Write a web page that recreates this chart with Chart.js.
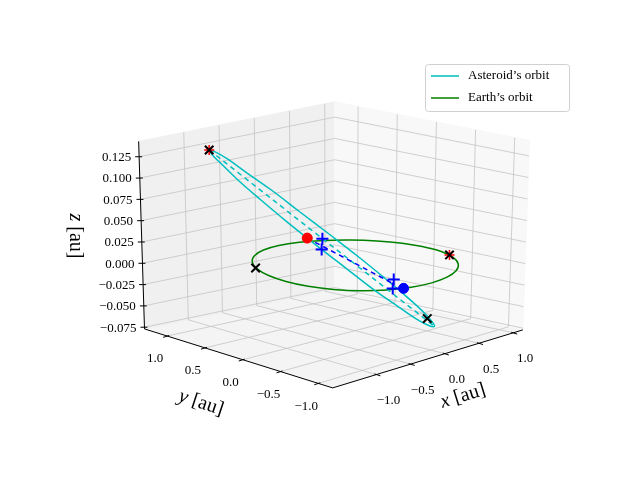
<!DOCTYPE html>
<html>
<head>
<meta charset="utf-8">
<script src="https://cdn.jsdelivr.net/npm/chart.js@4"></script>
<style>
  body { margin: 0; background: #fff; }
</style>
</head>
<body>
<canvas id="orbitChart" width="640" height="480"></canvas>
<script>
// axis limits (au) and ticks
const xLim = [-1.64, 1.14];
const yLim = [-1.19, 1.30];
const zLim = [-0.077, 0.143];
const xTicks = [-1.0, -0.5, 0.0, 0.5, 1.0];
const yTicks = [-1.0, -0.5, 0.0, 0.5, 1.0];
const zTicks = [-0.075, -0.050, -0.025, 0.000, 0.025, 0.050, 0.075, 0.100, 0.125];

// asteroid orbit [x, y, z] au
const asteroidOrbit = [
    [-0.906, 1.063, 0.126], [-0.645, 1.229, 0.116], [-0.354, 1.327, 0.100], [-0.053, 1.349, 0.078],
    [0.239, 1.298, 0.054], [0.500, 1.173, 0.027], [0.714, 0.984, 0.001], [0.866, 0.745, -0.023],
    [0.945, 0.470, -0.044], [0.945, 0.179, -0.060], [0.868, -0.107, -0.070], [0.719, -0.371, -0.074],
    [0.506, -0.593, -0.070], [0.245, -0.759, -0.060], [-0.046, -0.857, -0.044], [-0.347, -0.879, -0.022],
    [-0.639, -0.828, 0.002], [-0.900, -0.703, 0.029], [-1.114, -0.514, 0.055], [-1.266, -0.275, 0.079],
    [-1.345, 0.000, 0.100], [-1.345, 0.291, 0.116], [-1.268, 0.577, 0.127], [-1.119, 0.841, 0.130]
];
// Earth orbit (radius 1 au, ecliptic)
const earthOrbit = [
    [1.000, 0.000], [0.966, 0.259], [0.866, 0.500], [0.707, 0.707], [0.500, 0.866], [0.259, 0.966],
    [0.000, 1.000], [-0.259, 0.966], [-0.500, 0.866], [-0.707, 0.707], [-0.866, 0.500], [-0.966, 0.259],
    [-1.000, 0.000], [-0.966, -0.259], [-0.866, -0.500], [-0.707, -0.707], [-0.500, -0.866], [-0.259, -0.966],
    [0.000, -1.000], [0.259, -0.966], [0.500, -0.866], [0.707, -0.707], [0.866, -0.500], [0.966, -0.259]
];
const apsides = [[-0.906, 1.063, 0.126], [0.506, -0.593, -0.070]];
const nodesLine = [[0.18, 0.79, 0.01], [-0.28, -0.744, 0.0]];
const bluePlus = [[0.41, 0.80, 0.005], [0.20, 0.62, 0.0], [-0.163, -0.651, 0.0], [-0.417, -0.868, 0.0]];
const redDot = [[0.18, 0.79, 0.01]];
const blueDot = [[-0.34, -0.94, 0.0]];
const redStars = [[-0.906, 1.063, 0.126], [0.92, -0.40, 0.0]];
const blackX = [[-0.906, 1.063, 0.126], [-0.854, 0.531, 0.0], [0.555, -0.453, -0.065], [0.92, -0.40, 0.0]];

// screen corners of the 3d box (floor / top): front, right, left, back
const boxFloor = { F: [333, 393], R: [528, 333], L: [140, 332], B: [335, 291] };
const boxTop = { F: [333, 190], R: [535, 137], L: [134, 138], B: [335, 97] };

function bil(c, u, v) {
    const a = (1 - u) * (1 - v), b = u * (1 - v), d = (1 - u) * v, e = u * v;
    return [c.F[0] * a + c.R[0] * b + c.L[0] * d + c.B[0] * e,
            c.F[1] * a + c.R[1] * b + c.L[1] * d + c.B[1] * e];
}
function proj(x, y, z) {
    const u = (x - xLim[0]) / (xLim[1] - xLim[0]);
    const v = (y - yLim[0]) / (yLim[1] - yLim[0]);
    const w = (z - zLim[0]) / (zLim[1] - zLim[0]);
    const p0 = bil(boxFloor, u, v), p1 = bil(boxTop, u, v);
    return { x: p0[0] + (p1[0] - p0[0]) * w, y: p0[1] + (p1[1] - p0[1]) * w };
}
const pts = arr => arr.map(p => proj(p[0], p[1], p[2]));

const datasets = [];
function add(ds) { datasets.push(Object.assign({ showLine: true, pointRadius: 0, borderWidth: 1, tension: 0 }, ds)); }

// panes
add({ data: pts([[xLim[0], yLim[0], zLim[0]], [xLim[1], yLim[0], zLim[0]], [xLim[1], yLim[1], zLim[0]], [xLim[0], yLim[1], zLim[0]], [xLim[0], yLim[0], zLim[0]]]),
      fill: 'shape', backgroundColor: '#f4f4f4', borderColor: '#f4f4f4' });
add({ data: pts([[xLim[0], yLim[1], zLim[0]], [xLim[1], yLim[1], zLim[0]], [xLim[1], yLim[1], zLim[1]], [xLim[0], yLim[1], zLim[1]], [xLim[0], yLim[1], zLim[0]]]),
      fill: 'shape', backgroundColor: '#f0f0f0', borderColor: '#f0f0f0' });
add({ data: pts([[xLim[1], yLim[0], zLim[0]], [xLim[1], yLim[1], zLim[0]], [xLim[1], yLim[1], zLim[1]], [xLim[1], yLim[0], zLim[1]], [xLim[1], yLim[0], zLim[0]]]),
      fill: 'shape', backgroundColor: '#f8f8f8', borderColor: '#f8f8f8' });

// grid lines
const gridColor = '#c4c4c4';
xTicks.forEach(t => {
    add({ data: pts([[t, yLim[0], zLim[0]], [t, yLim[1], zLim[0]], [t, yLim[1], zLim[1]]]), borderColor: gridColor, borderWidth: 0.8 });
});
yTicks.forEach(t => {
    add({ data: pts([[xLim[0], t, zLim[0]], [xLim[1], t, zLim[0]], [xLim[1], t, zLim[1]]]), borderColor: gridColor, borderWidth: 0.8 });
});
zTicks.forEach(t => {
    add({ data: pts([[xLim[0], yLim[1], t], [xLim[1], yLim[1], t], [xLim[1], yLim[0], t]]), borderColor: gridColor, borderWidth: 0.8 });
});

// axis lines
add({ data: pts([[xLim[0], yLim[1], zLim[1]], [xLim[0], yLim[1], zLim[0]], [xLim[0], yLim[0], zLim[0]], [xLim[1], yLim[0], zLim[0]]]), borderColor: '#000', borderWidth: 1 });

// orbits
add({ data: pts(earthOrbit.map(p => [p[0], p[1], 0]).concat([[earthOrbit[0][0], earthOrbit[0][1], 0]])), borderColor: '#008000', borderWidth: 1.5, tension: 0.4 });
add({ data: pts(asteroidOrbit.concat([asteroidOrbit[0]])), borderColor: '#00bfbf', borderWidth: 1.5, tension: 0.4 });
add({ data: pts(apsides), borderColor: '#00bfbf', borderWidth: 1.5, borderDash: [5, 4] });
add({ data: pts(nodesLine), borderColor: '#0000ff', borderWidth: 1.5, borderDash: [5, 4] });

// markers
function mark(arr, style, color, r, w) {
    add({ data: pts(arr), showLine: false, pointStyle: style, pointRadius: r, borderColor: color, backgroundColor: color, pointBorderWidth: w });
}
mark(redStars, 'star', '#ff0000', 5, 1.5);
mark(blackX, 'crossRot', '#000', 6, 2);
mark(redDot, 'circle', '#ff0000', 5, 1);
mark(blueDot, 'circle', '#0000ff', 5, 1);
mark(bluePlus, 'cross', '#0000ff', 6, 2);

datasets.forEach((d, i) => { d.order = 1000 - i; });

const serif = '"Liberation Serif", "DejaVu Serif", serif';

const axisText = {
    id: 'axisText',
    afterDraw(chart) {
        const ctx = chart.ctx;
        const sx = chart.scales.x, sy = chart.scales.y;
        const P = (x, y, z) => { const p = proj(x, y, z); return [sx.getPixelForValue(p.x), sy.getPixelForValue(p.y)]; };
        ctx.save();
        ctx.strokeStyle = '#000';
        ctx.lineWidth = 1;
        ctx.fillStyle = '#000';
        ctx.font = '13px ' + serif;
        ctx.textAlign = 'center';
        ctx.textBaseline = 'middle';
        xTicks.forEach(t => {
            const [px, py] = P(t, yLim[0], zLim[0]);
            ctx.beginPath(); ctx.moveTo(px - 2, py - 0.6); ctx.lineTo(px + 4, py + 1.3); ctx.stroke();
            ctx.fillText(t.toFixed(1).replace('-', '\u2212'), px + 12, py + 26);
        });
        yTicks.forEach(t => {
            const [px, py] = P(xLim[0], t, zLim[0]);
            ctx.beginPath(); ctx.moveTo(px + 2, py - 0.6); ctx.lineTo(px - 4, py + 1.3); ctx.stroke();
            ctx.fillText(t.toFixed(1).replace('-', '\u2212'), px - 12, py + 23);
        });
        ctx.textAlign = 'right';
        zTicks.forEach(t => {
            const [px, py] = P(xLim[0], yLim[1], t);
            ctx.beginPath(); ctx.moveTo(px - 4, py); ctx.lineTo(px + 3, py); ctx.stroke();
            ctx.fillText(t.toFixed(3).replace('-', '\u2212'), px - 8, py + 1);
        });
        // axis labels
        const lab = (txt, x, y, rot) => {
            ctx.save(); ctx.translate(x, y); ctx.rotate(rot);
            ctx.font = 'italic 20px ' + serif; const w1 = ctx.measureText(txt[0]).width;
            ctx.font = '20px ' + serif; const w2 = ctx.measureText(txt[1]).width;
            const x0 = -(w1 + w2) / 2;
            ctx.textAlign = 'left';
            ctx.font = 'italic 20px ' + serif; ctx.fillText(txt[0], x0, 0);
            ctx.font = '20px ' + serif; ctx.fillText(txt[1], x0 + w1, 0);
            ctx.restore();
        };
        lab(['x', ' [au]'], 463, 396, -0.30);
        lab(['y', ' [au]'], 201, 403, 0.32);
        lab(['z', ' [au]'], 75, 236, Math.PI / 2);
        // legend
        ctx.fillStyle = 'rgba(255,255,255,0.85)';
        ctx.strokeStyle = '#d0d0d0';
        ctx.beginPath(); ctx.roundRect(425.5, 64.5, 144, 47, 3); ctx.fill(); ctx.stroke();
        ctx.lineWidth = 1.5;
        ctx.strokeStyle = '#00bfbf'; ctx.beginPath(); ctx.moveTo(431, 76); ctx.lineTo(459, 76); ctx.stroke();
        ctx.strokeStyle = '#008000'; ctx.beginPath(); ctx.moveTo(431, 98); ctx.lineTo(459, 98); ctx.stroke();
        ctx.fillStyle = '#000';
        ctx.font = '13px ' + serif;
        ctx.textAlign = 'left';
        ctx.fillText('Asteroid\u2019s orbit', 468, 76);
        ctx.fillText('Earth\u2019s orbit', 468, 98);
        ctx.restore();
    }
};

new Chart(document.getElementById('orbitChart').getContext('2d'), {
    type: 'scatter',
    data: { datasets: datasets },
    options: {
        responsive: false,
        animation: false,
        layout: { padding: 0 },
        plugins: { legend: { display: false }, tooltip: { enabled: false } },
        scales: {
            x: { type: 'linear', min: 0, max: 640, display: false },
            y: { type: 'linear', min: 0, max: 480, reverse: true, display: false }
        }
    },
    plugins: [axisText]
});
</script>
</body>
</html>
